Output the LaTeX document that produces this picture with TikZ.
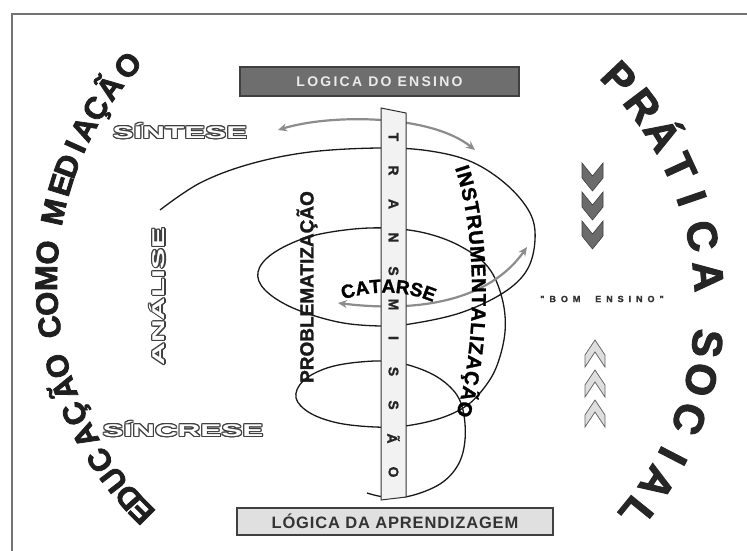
\documentclass[tikz,border=0pt]{standalone}
\usepackage{fontspec}
\setmainfont{Liberation Sans}
\newfontfamily\heavy{Liberation Sans}[BoldFeatures={FakeBold=1.5}]
\newfontfamily\heavier{Liberation Sans}[BoldFeatures={FakeBold=2.5}]
\usetikzlibrary{calc,decorations.text,arrows.meta}
\tikzset{
  spiral/.style={draw=black!90, line width=1.3pt},
  grayarrow/.style={draw=black!45, line width=2.2pt, {Stealth[length=9pt,width=8pt]}-{Stealth[length=9pt,width=8pt]}},
  barletter/.style={font=\heavy\bfseries\fontsize{14}{14}\selectfont, text=black!85, rotate=-90, inner sep=0},
  arcL/.style={font=\heavier\bfseries\fontsize{31}{31}\selectfont, anchor=base, inner sep=0, text=black!88},
  arcR/.style={font=\heavier\bfseries\fontsize{42}{42}\selectfont, anchor=base, inner sep=0, text=black!85},
  hollowtxt/.style={font=\bfseries\fontsize{17}{17}\selectfont, inner sep=0},
  vlabel/.style={font=\heavy\bfseries\fontsize{19}{19}\selectfont, inner sep=0, text=black!90},
  chevdown/.style={fill=black!58, draw=black!75, line width=0.6pt},
  chevup/.style={fill=black!13, draw=black!60, line width=0.8pt},
}
\begin{document}
\begin{tikzpicture}[x=1pt,y=-1pt]
\useasboundingbox (0,0) rectangle (747,551);
\fill[white] (0,0) rectangle (747,551);
% frame
\draw[draw=black!55, line width=1.6pt] (12,551) -- (12,14) -- (747,14);

% spiral
\draw[spiral] plot[smooth, tension=0.6] coordinates {
(160,210) (200,183) (250,164) (310,152) (380,148) (430,151) (472,162) (507,185) (530,213) (535,240) (527,270) (503,293) (460,313) (410,324) (380,326) (338,322) (293,308) (265,290) (258,272) (272,254) (305,238) (345,230) (385,228) (425,233) (460,246) (488,267) (502,298) (505,332) (496,368) (480,393) (463,408) (438,419) (405,426) (375,427) (338,423) (310,413) (296,398) (303,381) (327,368) (360,362) (395,362) (430,373) (453,390) (463,410) (465,440) (458,465) (440,484) (410,496) (385,497) (367,493)};

% gray arrows
\coordinate (ta1) at (278,130);
\coordinate (ta2) at (475,150);
\draw[grayarrow] (ta1) .. controls (330,114) and (430,114) .. (ta2);
\coordinate (ca1) at (338,303);
\coordinate (ca2) at (527,247);
\draw[grayarrow] (ca1) .. controls (420,313) and (490,300) .. (ca2);

% transmission bar
\draw[fill=black!5, draw=black!80, line width=1pt] (381,108) -- (406,113) -- (406,497) -- (381,500) -- cycle;
\foreach \ch [count=\i] in {T,R,A,N,S,M,I,S,S,Ã,O}
  \node[barletter] (tr\i) at (393.5,{137+33.5*(\i-1)}) {\ch};

% CATARSE
\path[decorate, decoration={text along path, text align=center,
  text={|\heavy\bfseries\fontsize{19}{19}\selectfont|CATARSE}}]
  (337,302) .. controls (365,290) and (407,288) .. (439,305);

% vertical labels
\node[vlabel, rotate=90] (prob) at (307,287) {PROBLEMATIZAÇÃO};
\path[decorate, decoration={text along path, text align={fit to path},
  text={|\heavy\bfseries\fontsize{20}{20}\selectfont|INSTRUMENTALIZAÇÃO}}]
  (455,168) .. controls (476,230) and (479,340) .. (456,415);

% boxes
\node[draw=black!75, fill=black!57, line width=1.2pt, minimum width=279pt, minimum height=29pt, inner sep=0,
  text=black!8, font={\bfseries\fontsize{14}{14}\selectfont\addfontfeatures{LetterSpace=16}}] (ens) at (379.5,81.5) {LOGICA DO ENSINO};
\node[draw=black!75, fill=black!12, line width=1.4pt, minimum width=316pt, minimum height=27pt, inner sep=0,
  text=black!80, font={\bfseries\fontsize{16.5}{16.5}\selectfont\addfontfeatures{LetterSpace=5}}] (apr) at (395,521.5) {LÓGICA DA APRENDIZAGEM};

% hollow words
\coordinate (sint) at (180,131);
\coordinate (sinc) at (183,429);
\coordinate (anal) at (157.5,296.5);
\foreach \c/\r/\w in {sint/0/SÍNTESE, sinc/0/SÍNCRESE, anal/90/ANÁLISE}{
  \foreach \oa in {0,30,...,330}
    \node[hollowtxt, text=black!75, rotate=\r, shift={(\oa:1.1pt)}] at (\c) {\scalebox{1.85}[1]{\w}};
  \node[hollowtxt, text=white, rotate=\r] (\c-t) at (\c) {\scalebox{1.85}[1]{\w}};
}

% arc texts
\foreach \ch/\a [count=\i] in {E/135.1, D/138.5, U/142.5, C/146.7, A/151.7, Ç/156, Ã/160.8, O/164.9,
  C/171.9, O/176, M/180.5, O/185,
  M/192.2, E/197.1, D/200.6, I/204.3, A/207.8, Ç/211.9, Ã/216.3, O/221.3}
  \node[arcL, rotate={-\a-90}] (edu\i) at ($(373,281)+(\a:316)$) {\ch};
\foreach \ch/\a [count=\i] in {P/-43.5, R/-37.2, Á/-31.1, T/-24.7, I/-18.9, C/-12.1, A/-5.0,
  S/6.7, O/13.1, C/20.2, I/27.3, A/32.7, L/39.0}
  \node[arcR, rotate={-\a-90}] (ps\i) at ($(380,305)+(\a:315)$) {\ch};

% chevrons
\foreach \y in {163,192,221}
  \draw[chevdown] (582,\y) -- (592.5,\y+13) -- (603,\y) -- (603,\y+15) -- (592.5,\y+28) -- (582,\y+15) -- cycle;
\foreach \y in {340,370,400}
  \draw[chevup] (595,\y) -- (605,\y+15) -- (605,\y+27) -- (595,\y+12) -- (585,\y+27) -- (585,\y+15) -- cycle;

% bom ensino
\node[font={\heavy\bfseries\fontsize{9}{9}\selectfont\addfontfeatures{LetterSpace=55}}, text=black!80, inner sep=0] (bom) at (602,299) {"BOM\ \ ENSINO"};
\end{tikzpicture}
\end{document}
